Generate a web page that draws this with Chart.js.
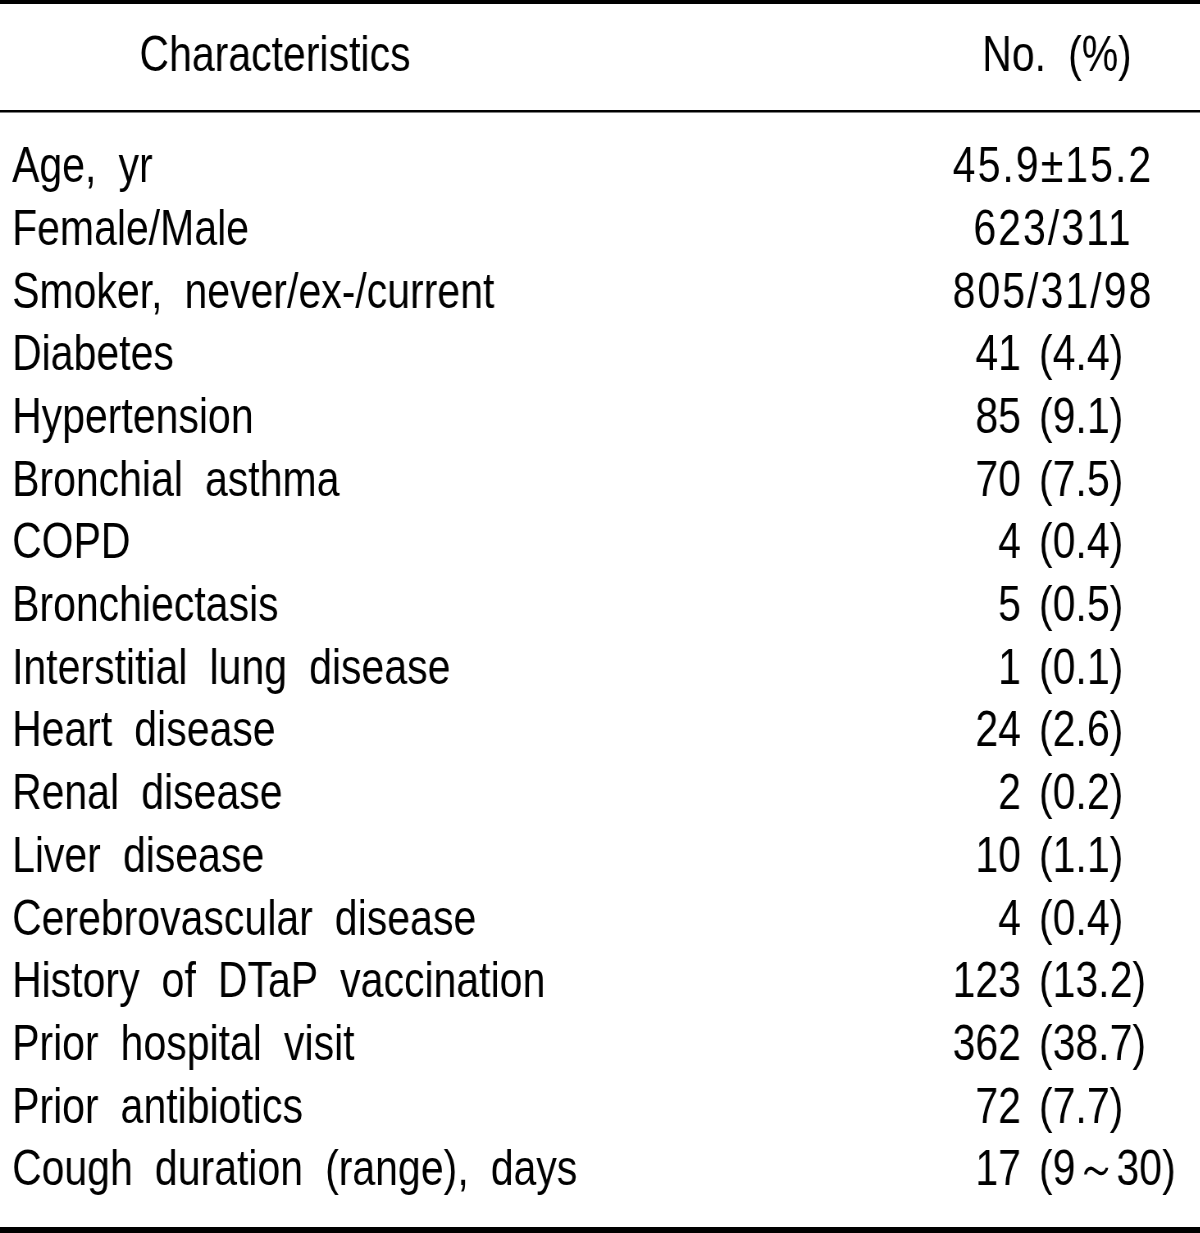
<!DOCTYPE html>
<html lang="en">
<head>
    <meta charset="UTF-8">
    <title>Characteristics table</title>
    <script src="https://cdn.jsdelivr.net/npm/chart.js"></script>
    <style>
        html, body { margin: 0; padding: 0; background: #fff; overflow: hidden; }
        /* the reference face is a condensed grotesque: draw wide, squeeze horizontally */
        #wrap { width: 1463px; height: 1233px; transform: scaleX(0.82); transform-origin: 0 0; }
    </style>
</head>
<body>
<div id="wrap"><canvas id="tbl"></canvas></div>
<script>
// table content
const headers = ['Characteristics', 'No. (%)'];
const characteristics = [
    'Age, yr', 'Female/Male', 'Smoker, never/ex-/current', 'Diabetes', 'Hypertension',
    'Bronchial asthma', 'COPD', 'Bronchiectasis', 'Interstitial lung disease', 'Heart disease',
    'Renal disease', 'Liver disease', 'Cerebrovascular disease', 'History of DTaP vaccination',
    'Prior hospital visit', 'Prior antibiotics', 'Cough duration (range), days'
];
const counts = [
    '45.9±15.2', '623/311', '805/31/98', '41', '85',
    '70', '4', '5', '1', '24',
    '2', '10', '4', '123',
    '362', '72', '17'
];
const percents = [
    null, null, null, '(4.4)', '(9.1)',
    '(7.5)', '(0.4)', '(0.5)', '(0.1)', '(2.6)',
    '(0.2)', '(1.1)', '(0.4)', '(13.2)',
    '(38.7)', '(7.7)', '(9～30)'
];

const FONT = "'Liberation Sans', Arial, sans-serif";
const SIZE = 50;
const SQ = 0.82;           // horizontal squeeze applied by css
const px = v => v / SQ;    // target x -> canvas x
const WS = '13px';

const tablePlugin = {
    id: 'tablePlugin',
    beforeLayout(chart) { chart.ctx.wordSpacing = WS; },
    beforeDraw(chart) { chart.ctx.wordSpacing = WS; },
    afterDraw(chart) {
        const ctx = chart.ctx;
        const y = chart.scales.y;
        ctx.save();
        ctx.wordSpacing = WS;
        ctx.fillStyle = '#000';
        ctx.font = SIZE + 'px ' + FONT;
        ctx.textBaseline = 'middle';

        // header
        ctx.textAlign = 'center';
        ctx.fillText(headers[0], px(275), 57);
        ctx.fillText(headers[1], px(1057), 57);

        // value column
        characteristics.forEach((c, i) => {
            const py = y.getPixelForValue(i);
            if (percents[i] === null) {
                ctx.letterSpacing = '2.5px';
                ctx.textAlign = 'center';
                ctx.fillText(counts[i], px(1053), py);
                ctx.letterSpacing = '0px';
            } else {
                ctx.textAlign = 'right';
                ctx.fillText(counts[i], px(1021), py);
                ctx.textAlign = 'left';
                ctx.fillText(percents[i], px(1039), py);
            }
        });

        // rules
        ctx.fillRect(0, 0, chart.width, 4);
        ctx.fillRect(0, 110, chart.width, 2.5);
        ctx.fillRect(0, 1227, chart.width, 6);
        ctx.restore();
    }
};

new Chart(document.getElementById('tbl'), {
    type: 'bar',
    data: {
        labels: characteristics,
        datasets: [{ data: [], backgroundColor: 'rgba(0,0,0,0)' }]
    },
    options: {
        indexAxis: 'y',
        responsive: true,
        maintainAspectRatio: false,
        animation: false,
        layout: { padding: { top: 137, bottom: 30, left: px(12), right: 0 } },
        plugins: { legend: { display: false }, tooltip: { enabled: false } },
        scales: {
            x: { display: false, min: 0, max: 1 },
            y: {
                grid: { display: false },
                border: { display: false },
                ticks: {
                    autoSkip: false,
                    crossAlign: 'far',
                    padding: 0,
                    color: '#000',
                    font: { family: FONT, size: SIZE }
                }
            }
        }
    },
    plugins: [tablePlugin]
});
</script>
</body>
</html>
